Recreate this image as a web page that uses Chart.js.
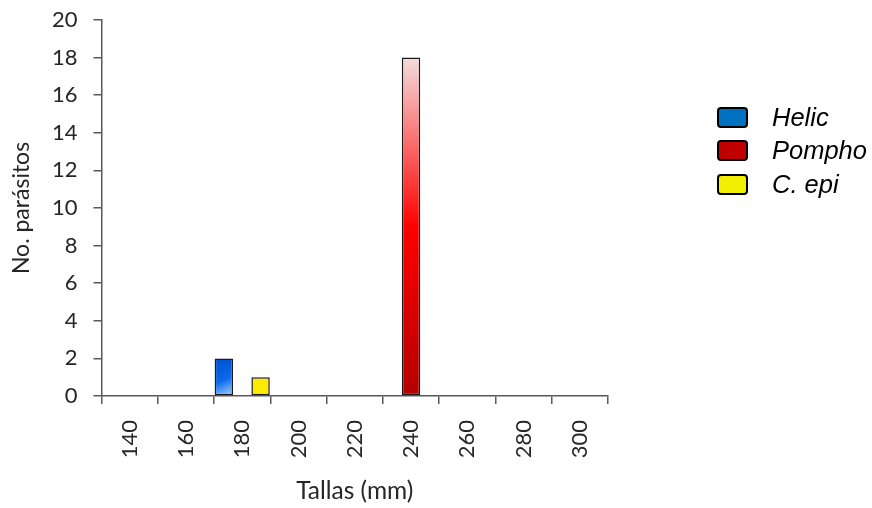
<!DOCTYPE html>
<html>
<head>
<meta charset="utf-8">
<script src="https://cdn.jsdelivr.net/npm/chart.js@4.4.0/dist/chart.umd.min.js"></script>
<style>
    body { margin: 0; background: #fff; }
    #caja { position: relative; width: 872px; height: 508px; }
    #leyenda { position: absolute; left: 717px; top: 106px; font-family: "Liberation Sans", Arial, sans-serif; font-style: italic; font-size: 25.5px; color: #000; }
    .item { display: flex; align-items: center; height: 22px; margin-bottom: 11.5px; }
    .cuadro { width: 27px; height: 17px; border: 2px solid #000; border-radius: 4px; margin-right: 24px; }
</style>
</head>
<body>
<div id="caja">
    <canvas id="graficoTallas" width="872" height="508"></canvas>
    <div id="leyenda"></div>
</div>
<script>
// Datos del gráfico
var tallas = ['140', '160', '180', '200', '220', '240', '260', '280', '300'];
var especies = ['Helic', 'Pompho', 'C. epi'];
var helic = [0, 0, 2, 0, 0, 0, 0, 0, 0];
var pompho = [0, 0, 0, 0, 0, 18, 0, 0, 0];
var cepi = [0, 0, 1, 0, 0, 0, 0, 0, 0];
var coloresLeyenda = ['#0070c0', '#c00000', '#f2ef00'];

var anchoGrupo = 0.98;
var colorEje = '#595959';

// degradados de cada barra (calculados a partir de las escalas)
function limitesBarra(context) {
    var chart = context.chart;
    var x = chart.scales.x;
    var y = chart.scales.y;
    var ancho = x.width / tallas.length * anchoGrupo;
    var centro = x.getPixelForValue(context.dataIndex);
    var izq = centro - ancho / 2 + context.datasetIndex * ancho / 3;
    return {
        izq: izq,
        der: izq + ancho / 3,
        arriba: y.getPixelForValue(context.raw || 0),
        base: y.getPixelForValue(0)
    };
}

function fondoHelic(context) {
    if (!context.chart.chartArea || context.type !== 'data') return '#0070c0';
    var b = limitesBarra(context);
    var g = context.chart.ctx.createLinearGradient(b.izq, b.arriba, b.der, b.base);
    g.addColorStop(0, '#004fc8');
    g.addColorStop(0.55, '#0a68ec');
    g.addColorStop(1, '#a8d6ff');
    return g;
}

function fondoPompho(context) {
    if (!context.chart.chartArea || context.type !== 'data') return '#c00000';
    var b = limitesBarra(context);
    var g = context.chart.ctx.createLinearGradient(0, b.arriba, 0, b.base);
    g.addColorStop(0, '#f4dcdc');
    g.addColorStop(0.5, '#ff0000');
    g.addColorStop(1, '#b40000');
    return g;
}

const ctx = document.getElementById('graficoTallas');

new Chart(ctx, {
    type: 'bar',
    data: {
        labels: tallas,
        datasets: [{
            label: especies[0],
            data: helic,
            backgroundColor: fondoHelic
        }, {
            label: especies[1],
            data: pompho,
            backgroundColor: fondoPompho
        }, {
            label: especies[2],
            data: cepi,
            backgroundColor: '#ffea00'
        }]
    },
    options: {
        responsive: false,
        animation: false,
        layout: {
            padding: { top: 20, right: 264, bottom: 0, left: 0 }
        },
        datasets: {
            bar: {
                categoryPercentage: anchoGrupo,
                barPercentage: 1,
                borderColor: '#1a1a1a',
                borderWidth: 1.5,
                borderSkipped: false
            }
        },
        plugins: {
            legend: { display: false },
            tooltip: { enabled: false }
        },
        scales: {
            x: {
                afterFit: function (scale) { scale.height = 112; },
                grid: {
                    drawOnChartArea: false,
                    tickLength: 8,
                    color: colorEje,
                    tickColor: function (c) { return c.index === tallas.length ? 'rgba(0,0,0,0)' : colorEje; },
                    lineWidth: 1.5
                },
                border: { color: colorEje, width: 1.5 },
                ticks: {
                    minRotation: 90,
                    maxRotation: 90,
                    padding: 16,
                    color: '#262626',
                    font: { family: 'Lato', size: 22 }
                },
                title: {
                    display: true,
                    text: 'Tallas (mm)',
                    color: '#262626',
                    padding: { top: 0, bottom: 2 },
                    font: { family: 'Lato', size: 24.5 }
                }
            },
            y: {
                min: 0,
                max: 20,
                afterFit: function (scale) {
                    scale.width = 101.5;
                    scale.paddingTop = 0;
                },
                grid: {
                    drawOnChartArea: false,
                    tickLength: 8,
                    color: colorEje,
                    lineWidth: 1.5
                },
                border: { color: colorEje, width: 1.5 },
                ticks: {
                    stepSize: 2,
                    padding: 16,
                    color: '#262626',
                    font: { family: 'Lato', size: 22 }
                },
                title: {
                    display: true,
                    text: 'No. parásitos',
                    color: '#262626',
                    padding: { top: 8, bottom: 0 },
                    font: { family: 'Lato', size: 23 }
                }
            }
        }
    }
});

// Leyenda a la derecha
var leyenda = document.getElementById('leyenda');
for (let i = 0; i < especies.length; i++) {
    leyenda.innerHTML += '<div class="item"><span class="cuadro" style="background:' + coloresLeyenda[i] + '"></span>' + especies[i] + '</div>';
}
</script>
</body>
</html>
